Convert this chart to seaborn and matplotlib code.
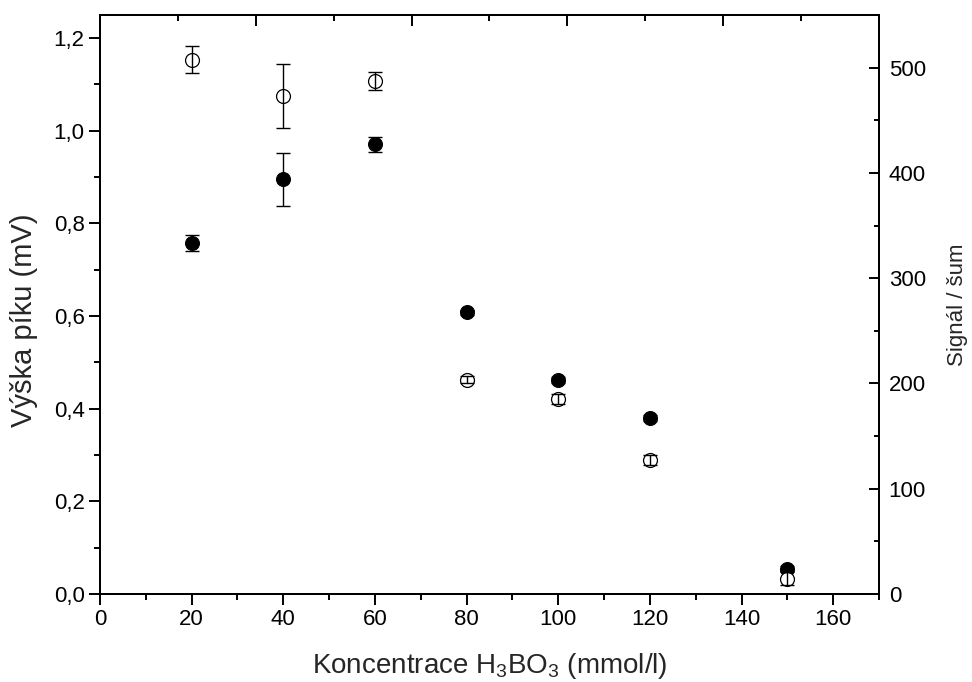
import matplotlib
matplotlib.use("Agg")
import matplotlib.pyplot as plt
from matplotlib.ticker import MultipleLocator, FuncFormatter
import numpy as np
import pandas as pd
import seaborn as sns

# H3BO3 concentration (mmol/l)
konc = [20, 40, 60, 80, 100, 120, 150]
# peak height (mV) with standard deviation
vyska = [0.758, 0.895, 0.971, 0.608, 0.462, 0.380, 0.055]
vyska_err = [0.018, 0.057, 0.016, 0.006, 0.006, 0.006, 0.006]
# signal-to-noise ratio with standard deviation
sn = [507.6, 472.7, 487.6, 203.5, 185.4, 127.3, 14.6]
sn_err = [12.5, 30.5, 8.5, 3.5, 4.5, 4.5, 6.0]

df = pd.DataFrame({"konc": konc, "vyska": vyska, "vyska_err": vyska_err,
                   "sn": sn, "sn_err": sn_err})

sns.set_style("ticks")
plt.rcParams["font.family"] = ["Liberation Sans", "DejaVu Sans"]
plt.rcParams["mathtext.fontset"] = "custom"
plt.rcParams["mathtext.rm"] = "Liberation Sans"
plt.rcParams["mathtext.it"] = "Liberation Sans"

fig = plt.figure(figsize=(9.72, 6.82), dpi=100)
ax = fig.add_axes([0.1029, 0.129, 0.8014, 0.849])
ax2 = ax.twinx()

lw = 1.4
comma = FuncFormatter(lambda v, p: f"{v:.1f}".replace(".", ","))

# peak height: filled circles, left axis
ax.errorbar(df["konc"], df["vyska"], yerr=df["vyska_err"], fmt="none",
            ecolor="black", elinewidth=1.0, capsize=5, capthick=1.0, zorder=3)
sns.scatterplot(data=df, x="konc", y="vyska", ax=ax, marker="o", s=100,
                color="black", edgecolor="black", linewidth=0.8, zorder=4,
                legend=False)

# signal / noise: open circles, right axis
sns.scatterplot(data=df, x="konc", y="sn", ax=ax2, marker="o", s=100,
                facecolor="white", edgecolor="black", linewidth=0.9, zorder=3,
                legend=False)
ax2.errorbar(df["konc"], df["sn"], yerr=df["sn_err"], fmt="none",
             ecolor="black", elinewidth=1.0, capsize=5, capthick=1.0, zorder=4)

ax.set_xlim(0, 170)
ax.set_ylim(0, 1.25)
ax2.set_ylim(0, 550)

ax.xaxis.set_major_locator(MultipleLocator(20))
ax.xaxis.set_minor_locator(MultipleLocator(10))
ax.yaxis.set_major_locator(MultipleLocator(0.2))
ax.yaxis.set_minor_locator(MultipleLocator(0.1))
ax.yaxis.set_major_formatter(comma)
ax2.yaxis.set_major_locator(MultipleLocator(100))
ax2.yaxis.set_minor_locator(MultipleLocator(50))

for a in (ax, ax2):
    for sp in a.spines.values():
        sp.set_visible(True)
        sp.set_linewidth(lw)
        sp.set_color("black")

# left and bottom: outward ticks
ax.tick_params(which="major", direction="out", length=8, width=lw,
               labelsize=16, color="black", labelcolor="black", pad=3)
ax.tick_params(which="minor", direction="out", length=4, width=lw,
               color="black")
ax.tick_params(axis="x", which="both", top=False)
ax.tick_params(axis="y", which="both", right=False)

# right: inward ticks
ax2.tick_params(axis="y", which="major", direction="in", length=7, width=lw,
                labelsize=16, color="black", labelcolor="black", pad=7,
                left=False, right=True)
ax2.tick_params(axis="y", which="minor", direction="in", length=3.5,
                width=lw, color="black", left=False, right=True)

# unlabelled top axis with inward ticks
top = ax.secondary_xaxis("top", functions=(lambda x: x / 170.0,
                                           lambda x: x * 170.0))
top.xaxis.set_major_locator(MultipleLocator(0.2))
top.xaxis.set_minor_locator(MultipleLocator(0.1))
top.tick_params(which="major", direction="in", length=8, width=lw,
                labeltop=False, color="black")
top.tick_params(which="minor", direction="in", length=4.5, width=lw,
                color="black")
top.spines["top"].set_linewidth(lw)

ax.set_xlabel(r"Koncentrace H$_3$BO$_3$ (mmol/l)", fontsize=20, labelpad=15)
ax.set_ylabel("Výška píku (mV)", fontsize=21)
ax.yaxis.set_label_coords(-0.079, 0.472)
ax2.set_ylabel("Signál / šum", fontsize=16, labelpad=15)

fig.savefig("out.png", dpi=100, facecolor="white")
